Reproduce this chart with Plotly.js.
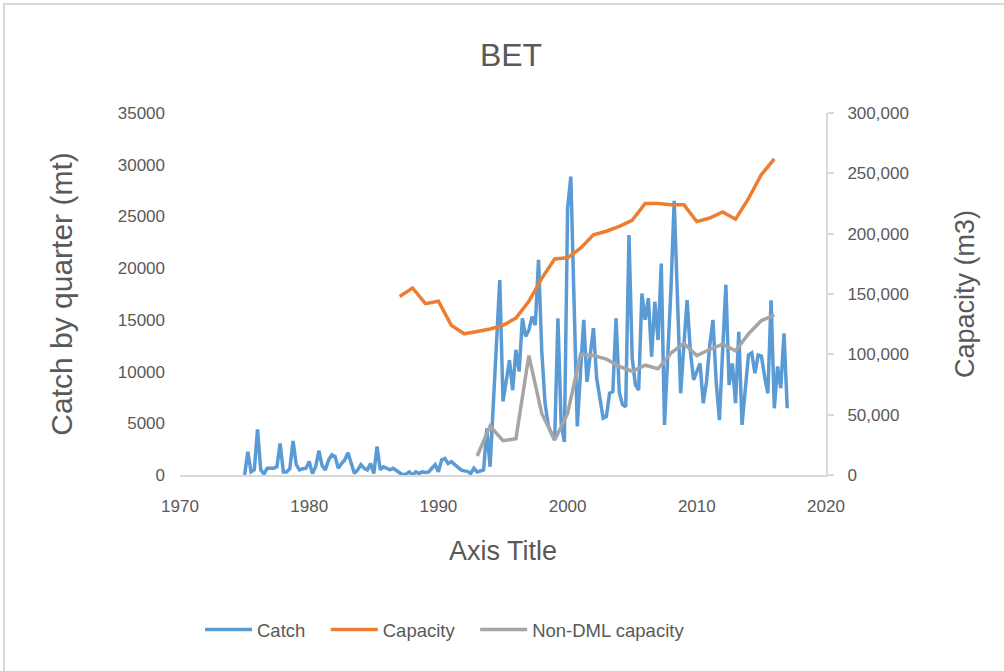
<!DOCTYPE html>
<html>
<head>
<meta charset="utf-8">
<script src="https://cdn.plot.ly/plotly-3.0.1.min.js"></script>
<style>
  html, body { margin: 0; padding: 0; background: #fff; }
  #frame { position: absolute; left: 3px; top: 3px; width: 1020px; height: 700px; border: 2px solid #d9d9d9; box-sizing: border-box; pointer-events: none; }
  #chart { position: absolute; left: 0; top: 0; width: 1004px; height: 671px; }
</style>
</head>
<body>
<div id="chart"></div>
<div id="frame"></div>
<script>
// ---- Data ----
// Quarterly catch (mt), starting 1975 Q1
const catchStartYear = 1975;
const catchValues = [
  0, 2250, 300, 500,          // 1975
  4400, 500, 100, 650,        // 1976
  650, 650, 800, 3050,        // 1977
  300, 300, 600, 3300,        // 1978
  1000, 500, 600, 650,        // 1979
  1300, 150, 800, 2350,       // 1980
  900, 500, 1450, 1950,       // 1981
  1800, 650, 1100, 1450,      // 1982
  2150, 1100, 150, 500,       // 1983
  1000, 650, 500, 1100,       // 1984
  150, 2750, 500, 800,        // 1985
  650, 500, 650, 400,         // 1986
  150, 0, 100, 300,           // 1987
  0, 300, 150, 300,           // 1988
  250, 300, 650, 1000,        // 1989
  300, 1450, 1600, 1100,      // 1990
  1300, 1000, 800, 500,       // 1991
  400, 350, 150, 650,         // 1992
  300, 400, 500, 4500,        // 1993
  800, 6800, 12800, 18850,    // 1994
  7100, 9000, 11100, 8200,    // 1995
  12100, 10000, 15150, 13400, // 1996
  14000, 15300, 14500, 20800, // 1997
  12000, 7000, 4800, 4000,    // 1998
  3400, 15150, 5000, 3200,    // 1999
  25800, 28850, 16000, 4700,  // 2000
  10000, 15000, 9000, 12000,  // 2001
  14200, 9350, 7500, 5500,    // 2002
  5650, 7900, 8050, 15150,    // 2003
  8000, 6800, 6600, 23200,    // 2004
  11300, 8700, 8200, 17550,   // 2005
  15000, 17100, 11450, 16750, // 2006
  13050, 20450, 4850, 10950,  // 2007
  18000, 26500, 16000, 7900,  // 2008
  12550, 16900, 12000, 9200,  // 2009
  10000, 10800, 6950, 9000,   // 2010
  12500, 15000, 9000, 5300,   // 2011
  12000, 18400, 8700, 10800,  // 2012
  6950, 13850, 4850, 8500,    // 2013
  11600, 11800, 9850, 11600,  // 2014
  11500, 9500, 7900, 16900,   // 2015
  6450, 10500, 8400, 13700,   // 2016
  6450                        // 2017
];

// Annual capacity (m3)
const capacityYears = [1987,1988,1989,1990,1991,1992,1993,1994,1995,1996,1997,1998,1999,2000,2001,2002,2003,2004,2005,2006,2007,2008,2009,2010,2011,2012,2013,2014,2015,2016];
const capacityValues = [148000,155000,142000,144000,124000,117000,119000,121000,124000,130000,144000,163000,179000,180000,188000,199000,202000,206000,211000,225000,225000,224000,224000,210000,213000,218000,212000,229000,249000,262000];

// Annual non-DML capacity (m3)
const nonDmlYears = [1993,1994,1995,1996,1997,1998,1999,2000,2001,2002,2003,2004,2005,2006,2007,2008,2009,2010,2011,2012,2013,2014,2015,2016];
const nonDmlValues = [15700,40600,28400,30000,99000,51000,29000,51000,100000,99000,96000,90000,86000,91000,88000,101000,109000,99000,104000,108500,103000,117000,128000,132600];

const seriesNames = ["Catch", "Capacity", "Non-DML capacity"];
const chartTitle = "BET";
const xTitle = "Axis Title";
const yTitle = "Catch by quarter (mt)";
const y2Title = "Capacity (m3)";

// ---- Build ----
const catchX = catchValues.map((v, i) => catchStartYear + i / 4);
const pad = n => '\u00a0'.repeat(n);

const FONT = '"Liberation Sans", Arial, sans-serif';
const TXT = '#595959';
const LW = 3.5;

const traces = [
  { x: catchX, y: catchValues, name: seriesNames[0] + pad(3), type: 'scatter', mode: 'lines',
    line: { color: '#5b9bd5', width: LW }, yaxis: 'y' },
  { x: capacityYears, y: capacityValues, name: seriesNames[1] + pad(3), type: 'scatter', mode: 'lines',
    line: { color: '#ed7d31', width: LW }, yaxis: 'y2' },
  { x: nonDmlYears, y: nonDmlValues, name: seriesNames[2], type: 'scatter', mode: 'lines',
    line: { color: '#a5a5a5', width: LW }, yaxis: 'y2' }
];

const layout = {
  width: 1004, height: 671,
  margin: { l: 180, r: 178, t: 113, b: 196 },
  paper_bgcolor: 'rgba(0,0,0,0)', plot_bgcolor: 'rgba(0,0,0,0)',
  font: { family: FONT, color: TXT, size: 17 },
  title: { text: chartTitle, x: 0.509, xanchor: 'center', y: 1 - 55 / 671, yanchor: 'middle',
    font: { family: FONT, size: 32, color: TXT } },
  showlegend: true,
  legend: { orientation: 'h', x: (200 - 180) / 646, xanchor: 'left', y: -0.428, yanchor: 'middle',
    itemwidth: 47, font: { family: FONT, size: 18.5, color: TXT } },
  xaxis: {
    range: [1970, 2020], tick0: 1970, dtick: 10, showgrid: false, zeroline: false,
    showline: true, linecolor: '#d9d9d9', linewidth: 2, ticks: '',
    tickfont: { family: FONT, size: 17, color: TXT }, ticklabelstandoff: 15,
    title: { text: xTitle, font: { family: FONT, size: 27, color: TXT }, standoff: 26 }
  },
  yaxis: {
    range: [0, 35000], tick0: 0, dtick: 5000, showgrid: false, zeroline: false,
    showline: false, ticks: '', tickformat: 'd',
    tickfont: { family: FONT, size: 17, color: TXT }, ticklabelstandoff: 14,
    title: { text: yTitle, font: { family: FONT, size: 30, color: TXT }, standoff: 36 }
  },
  yaxis2: {
    range: [0, 300000], tick0: 0, dtick: 50000, overlaying: 'y', side: 'right',
    showgrid: false, zeroline: false, showline: true, linecolor: '#d9d9d9', linewidth: 2,
    ticks: 'outside', ticklen: 6, tickcolor: '#d9d9d9', tickwidth: 2, tickformat: ',d',
    tickfont: { family: FONT, size: 17, color: TXT }, ticklabelstandoff: 10,
    title: { text: y2Title, font: { family: FONT, size: 27, color: TXT }, standoff: 47 }
  }
};

Plotly.newPlot('chart', traces, layout, { displayModeBar: false, staticPlot: true });
</script>
</body>
</html>
